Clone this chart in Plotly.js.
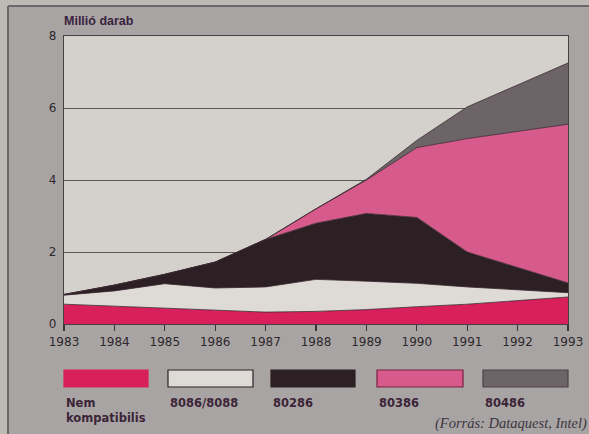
<!DOCTYPE html>
<html>
<head>
<meta charset="utf-8">
<script src="https://cdn.plot.ly/plotly-3.0.1.min.js"></script>
<style>html,body{margin:0;padding:0;background:#a8a4a3;}#chart{width:589px;height:434px;}</style>
</head>
<body>
<div id="chart"></div>
<script>
// ---- data (million units) ----
const years = [1983, 1984, 1985, 1986, 1987, 1988, 1989, 1990, 1991, 1992, 1993];
const nemKompatibilis = [0.55, 0.50, 0.45, 0.40, 0.33, 0.35, 0.40, 0.48, 0.55, 0.65, 0.75];
const v8086 = [0.25, 0.42, 0.67, 0.60, 0.70, 0.89, 0.79, 0.65, 0.48, 0.29, 0.12];
const v80286 = [0.02, 0.16, 0.26, 0.72, 1.32, 1.56, 1.88, 1.83, 0.97, 0.64, 0.27];
const v80386 = [0, 0, 0, 0, 0, 0.40, 0.93, 1.94, 3.15, 3.76, 4.41];
const v80486 = [0, 0, 0, 0, 0, 0, 0.02, 0.20, 0.88, 1.29, 1.70];
const seriesNames = ["Nem<br>kompatibilis", "8086/8088", "80286", "80386", "80486"];
const yTicks = [0, 2, 4, 6, 8];
const yTitle = "Millió darab";
const sourceText = "(Forrás: Dataquest, Intel)";

// ---- styles ----
const fills = ["#d8205c", "#dedad5", "#2c2024", "#d65a8c", "#6c6466"];
const edge = "#3a2a30";
const seriesVals = [nemKompatibilis, v8086, v80286, v80386, v80486];

const traces = seriesVals.map((vals, i) => ({
  type: "scatter",
  mode: "lines",
  x: years,
  y: vals,
  name: seriesNames[i],
  stackgroup: "one",
  fill: "tonexty",
  fillcolor: fills[i],
  line: {color: edge, width: 0.8, shape: "linear"},
  hoverinfo: "skip",
  showlegend: false
}));

// pixel -> paper helpers (plot area: x 64..568, y 36..324)
const L = 64, R = 568, T = 36, B = 324;
const px = p => (p - L) / (R - L);
const py = p => (B - p) / (B - T);

const shapes = [
  // outer light strips & frame
  {type: "rect", xref: "paper", yref: "paper", x0: px(0), x1: px(8), y0: py(434), y1: py(0), fillcolor: "#bdb9b5", line: {width: 0}},
  {type: "rect", xref: "paper", yref: "paper", x0: px(0), x1: px(589), y0: py(6), y1: py(0), fillcolor: "#bdb9b5", line: {width: 0}},
  {type: "line", xref: "paper", yref: "paper", x0: px(8), x1: px(8), y0: py(434), y1: py(6), line: {color: "#6c6668", width: 2}},
  {type: "line", xref: "paper", yref: "paper", x0: px(8), x1: px(589), y0: py(6), y1: py(6), line: {color: "#6c6668", width: 2}}
];
const annotations = [
  {xref: "paper", yref: "paper", x: px(62), y: py(21), xanchor: "left", yanchor: "middle", showarrow: false,
   text: "<b>" + yTitle + "</b>", font: {family: "Liberation Sans, Arial", size: 12.5, color: "#3a2240"}},
  {xref: "paper", yref: "paper", x: px(589), y: py(423), xanchor: "right", yanchor: "middle", showarrow: false,
   text: "<i>" + sourceText + "</i>", font: {family: "Liberation Serif, serif", size: 14.5, color: "#3c3440"}}
];
// legend boxes
const boxX = [[64, 148], [168, 253], [271, 355], [377, 463], [483, 568]];
const boxLine = ["#d8205c", "#2c2024", "#2c2024", "#7a2040", "#4a4244"];
seriesNames.forEach((n, i) => {
  shapes.push({type: "rect", xref: "paper", yref: "paper", x0: px(boxX[i][0]), x1: px(boxX[i][1]),
    y0: py(387), y1: py(370), fillcolor: fills[i], line: {color: boxLine[i], width: 1.2}});
  annotations.push({xref: "paper", yref: "paper", x: px(boxX[i][0]), y: py(394), xanchor: "left", yanchor: "top",
    align: "left", showarrow: false, text: "<b>" + n + "</b>",
    font: {family: "DejaVu Sans, Arial", size: 11.5, color: "#3c2438"}});
});

const layout = {
  width: 589, height: 434,
  margin: {l: L, r: 589 - R, t: T, b: 434 - B, pad: 0},
  paper_bgcolor: "#a8a4a3",
  plot_bgcolor: "#d4d0cb",
  showlegend: false,
  xaxis: {
    range: [1983, 1993], tickvals: years, ticktext: years.map(String),
    ticks: "outside", ticklen: 6, tickcolor: "#3a3236", tickwidth: 1.2,
    showgrid: false, zeroline: false,
    showline: true, linecolor: "#4a4044", linewidth: 1.2, mirror: true,
    tickfont: {family: "DejaVu Sans, Arial", size: 12, color: "#2e282c"}
  },
  yaxis: {
    range: [0, 8], tickvals: yTicks, ticks: "", showgrid: true, gridcolor: "#5e5658", gridwidth: 1,
    zeroline: false, showline: true, linecolor: "#4a4044", linewidth: 1.2, mirror: true,
    tickfont: {family: "DejaVu Sans, Arial", size: 12, color: "#2e282c"}, ticklabelstandoff: 4
  },
  shapes: shapes,
  annotations: annotations
};

Plotly.newPlot("chart", traces, layout, {staticPlot: true, displayModeBar: false});
</script>
</body>
</html>
